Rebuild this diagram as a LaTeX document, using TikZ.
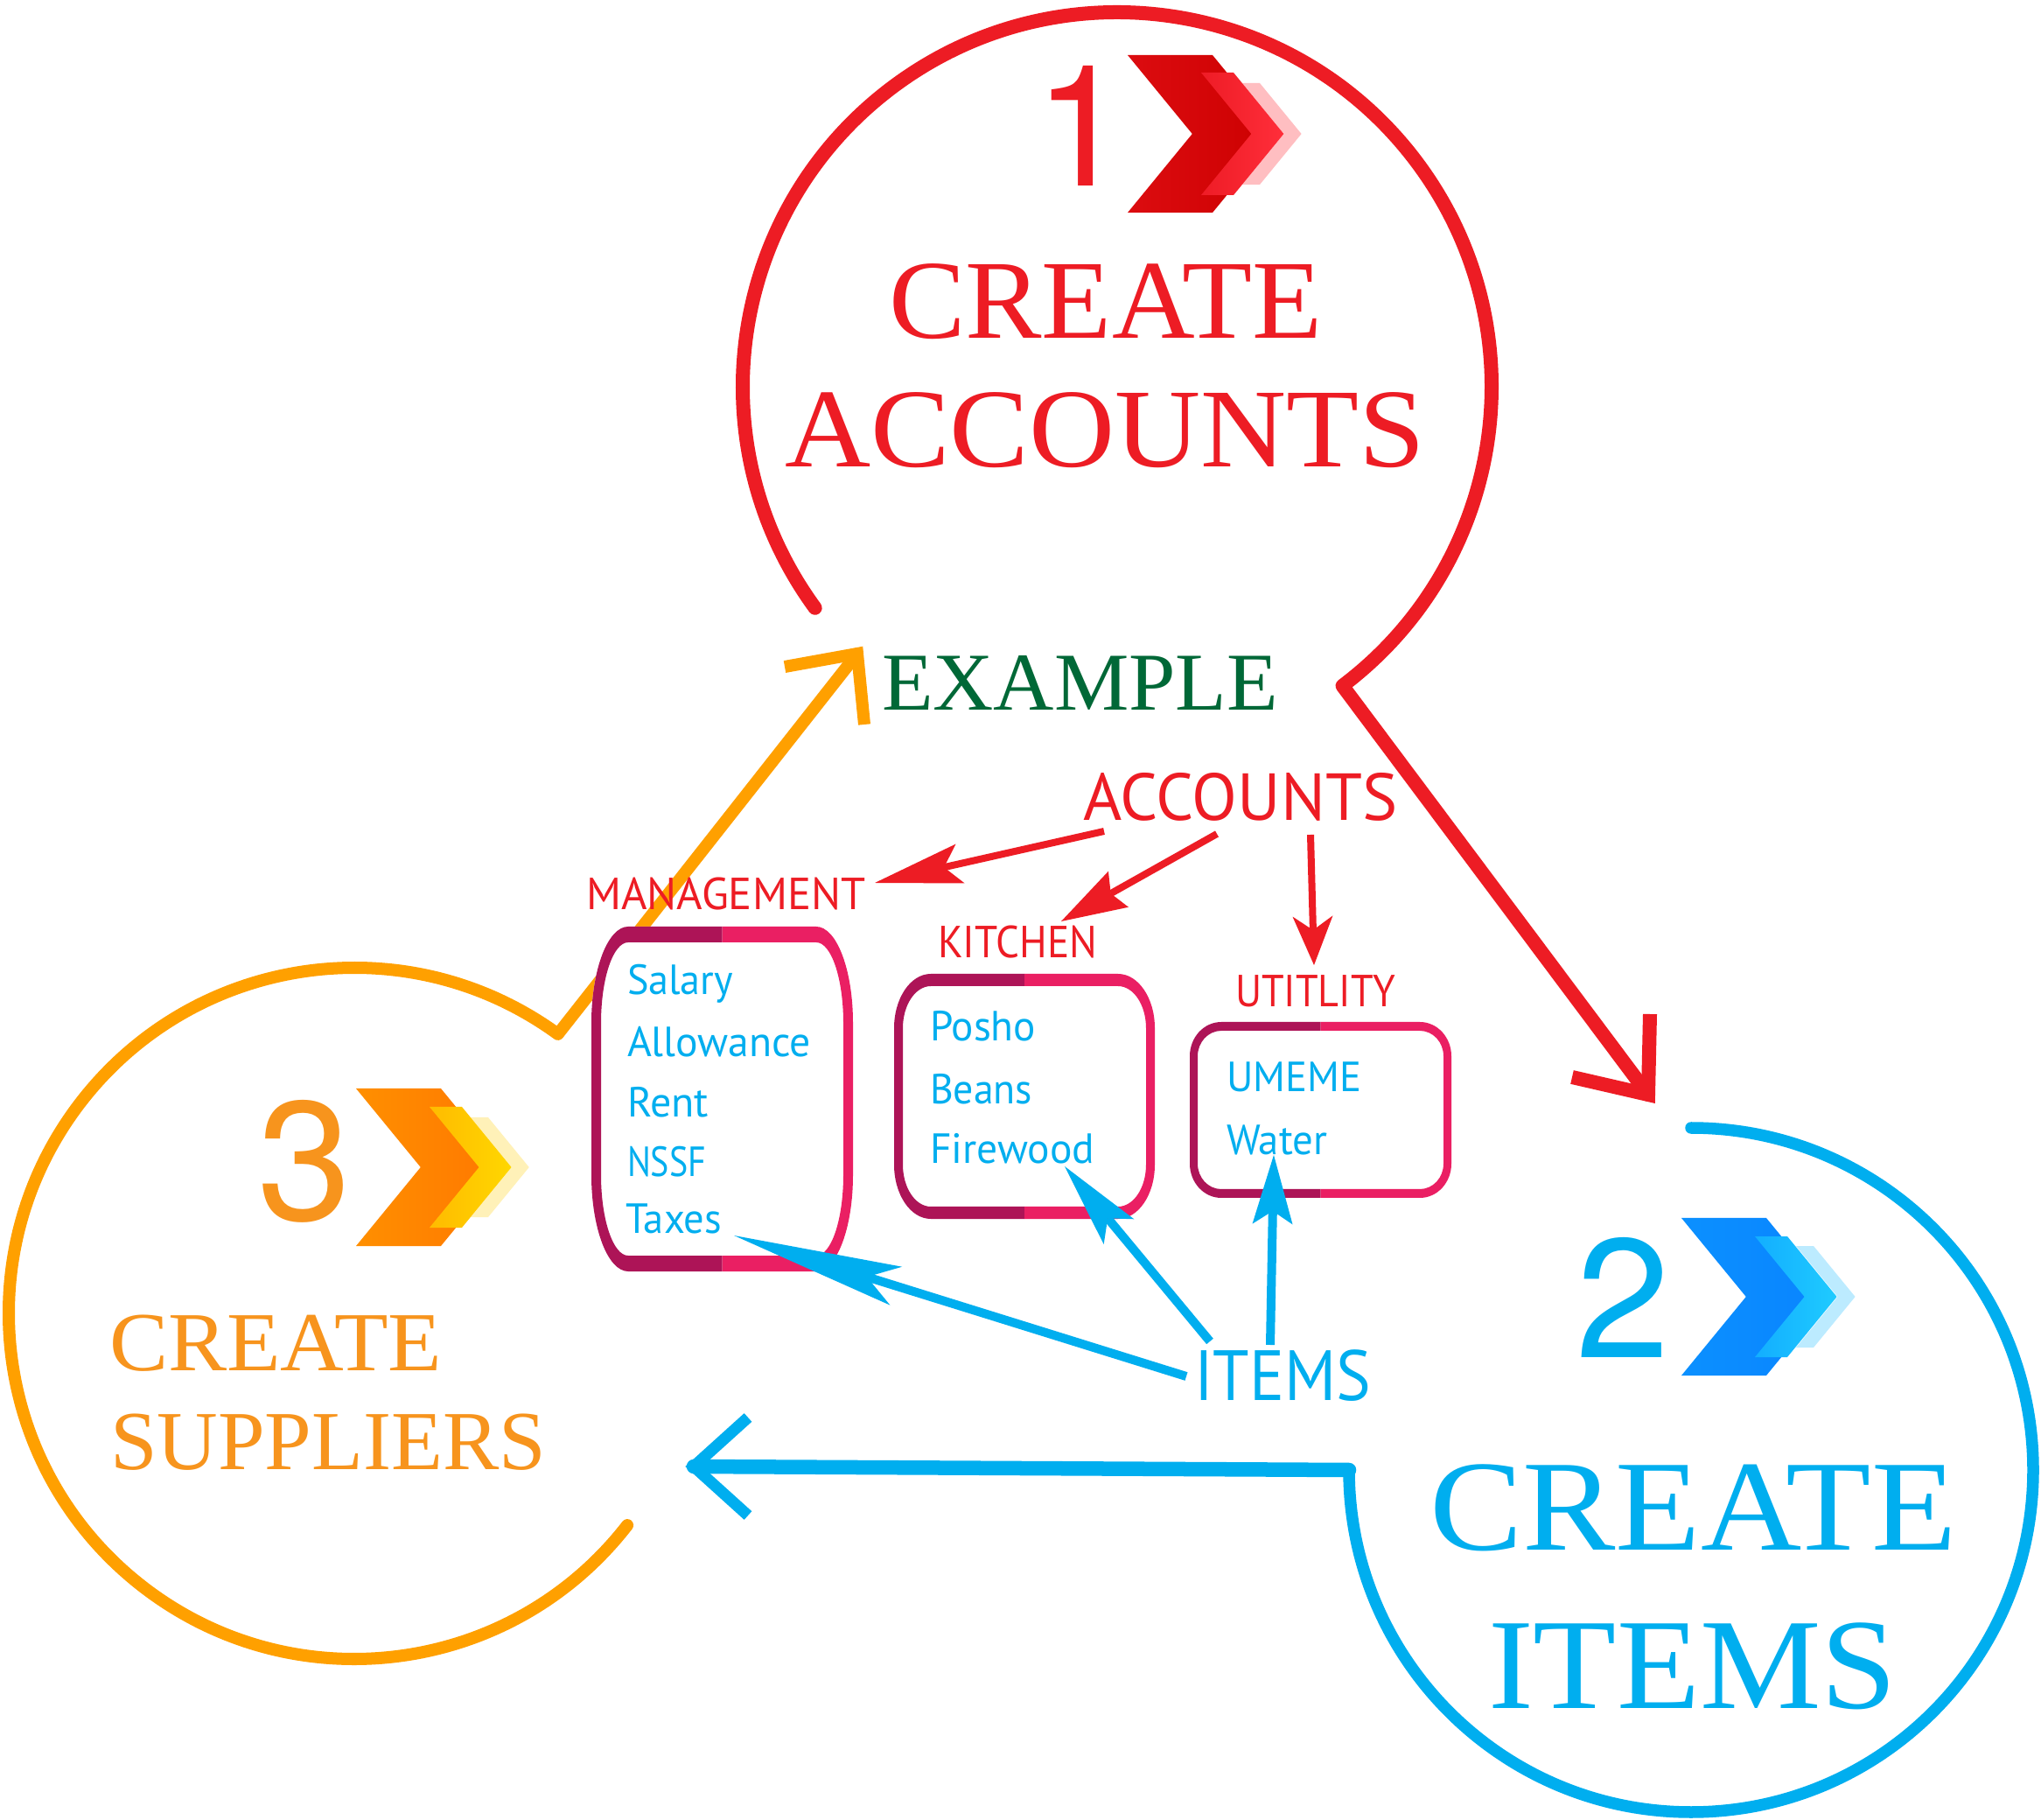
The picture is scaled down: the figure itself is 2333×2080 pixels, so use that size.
\documentclass[tikz,border=0pt]{standalone}
\usepackage{fontspec}
\usepackage{graphicx}
\usetikzlibrary{arrows.meta}
\newfontfamily\titlefont{Liberation Serif}
\newfontfamily\labelfont{PT Sans}
\newfontfamily\numfont{TeX Gyre Heros}
\newcommand{\fitw}[2]{\resizebox{#1}{\height}{#2}}
\definecolor{cred}{HTML}{ED1C24}
\definecolor{corange}{HTML}{FFA000}
\definecolor{corangeT}{HTML}{F7941D}
\definecolor{cblue}{HTML}{00AEEF}
\definecolor{cgreen}{HTML}{006837}
\definecolor{cdark}{HTML}{AD1457}
\definecolor{cpink}{HTML}{EA1F63}
\definecolor{chRa}{HTML}{DC0C10}
\definecolor{chRb}{HTML}{CC0000}
\definecolor{chRc}{HTML}{EE1C26}
\definecolor{chRd}{HTML}{FF2E3A}
\definecolor{chRe}{HTML}{FFBEC1}
\definecolor{chBa}{HTML}{0B90FF}
\definecolor{chBb}{HTML}{0A84FF}
\definecolor{chBc}{HTML}{13AEFF}
\definecolor{chBd}{HTML}{1FCBFF}
\definecolor{chBe}{HTML}{BCEBFF}
\definecolor{chOa}{HTML}{FF8F00}
\definecolor{chOb}{HTML}{FF7700}
\definecolor{chOc}{HTML}{FFBB00}
\definecolor{chOd}{HTML}{FFD700}
\definecolor{chOe}{HTML}{FFF1B8}
% rounded rectangle path with elliptic corners: x1,y1,x2,y2,rx,ry (y downwards)
\newcommand{\rrp}[6]{({(#1)+(#5)},{#2}) -- ({(#3)-(#5)},{#2}) arc[start angle=-90,end angle=0,x radius={#5},y radius={#6}] -- ({#3},{(#4)-(#6)}) arc[start angle=0,end angle=90,x radius={#5},y radius={#6}] -- ({(#1)+(#5)},{#4}) arc[start angle=90,end angle=180,x radius={#5},y radius={#6}] -- ({#1},{(#2)+(#6)}) arc[start angle=180,end angle=270,x radius={#5},y radius={#6}] -- cycle}
% two-coloured frame: x1,y1,x2,y2,rx,ry,side thickness,top thickness
\newcommand{\catbox}[8]{%
  \fill[white] \rrp{#1}{#2}{#3}{#4}{#5}{#6};
  \begin{scope}
    \clip ({(#1)-10},{(#2)-10}) rectangle ({((#1)+(#3))/2},{(#4)+10});
    \fill[cdark,even odd rule] \rrp{#1}{#2}{#3}{#4}{#5}{#6} \rrp{#1+#7}{#2+#8}{#3-#7}{#4-#8}{#5-#7}{#6-#8};
  \end{scope}
  \begin{scope}
    \clip ({((#1)+(#3))/2},{(#2)-10}) rectangle ({(#3)+10},{(#4)+10});
    \fill[cpink,even odd rule] \rrp{#1}{#2}{#3}{#4}{#5}{#6} \rrp{#1+#7}{#2+#8}{#3-#7}{#4-#8}{#5-#7}{#6-#8};
  \end{scope}}
% chevron: left x, band width, half height, centre y, left colour, right colour
\newcommand{\chev}[6]{\shade[left color=#5,right color=#6] ({#1},{(#4)-(#3)}) -- ({(#1)+(#2)},{(#4)-(#3)}) -- ({(#1)+(#2)+0.82*(#3)},{#4}) -- ({(#1)+(#2)},{(#4)+(#3)}) -- ({#1},{(#4)+(#3)}) -- ({(#1)+0.82*(#3)},{#4}) -- cycle;}
\begin{document}
\begin{tikzpicture}[x=0.01cm,y=-0.01cm,
  txt/.style={inner sep=0pt,outer sep=0pt,anchor=base west},
  digit/.style={txt,font=\numfont\fontsize{55pt}{60pt}\selectfont},
  titlered/.style={txt,text=cred,font=\titlefont\fontsize{36.5pt}{40pt}\selectfont},
  titlegreen/.style={txt,text=cgreen,font=\titlefont\fontsize{26.7pt}{30pt}\selectfont},
  titleorange/.style={txt,text=corangeT,font=\titlefont\fontsize{27.3pt}{30pt}\selectfont},
  titleblue/.style={txt,text=cblue,font=\titlefont\fontsize{42pt}{46pt}\selectfont},
  cattxt/.style={txt,text=cred,font=\labelfont\fontsize{14.6pt}{17pt}\selectfont},
  itemtxt/.style={txt,text=cblue,font=\labelfont\fontsize{13.7pt}{16pt}\selectfont},
  ringline/.style={line cap=round,line join=round},
  headarm/.style={line cap=butt,line join=miter,miter limit=20},
  catarrow/.style={cred,line width=0.08cm},
  itemarrow/.style={cblue,line width=0.1cm}]
\fill[white] (0,0) rectangle (2333,2080);
\useasboundingbox (0,0) rectangle (2333,2080);

% ---- red ring with arrow (create accounts)
\coordinate (redC) at (1277,442);
\coordinate (redTip) at (1884,1251);
\coordinate (redArmA) at (1886,1159);
\coordinate (redArmB) at (1797,1231);
\draw[cred,line width=0.16cm,ringline] (redC) ++(143.8:428) arc[start angle=143.8,end angle=413,radius=428] -- (redTip);
\draw[cred,line width=0.16cm,headarm] (redArmA) -- (redTip) -- (redArmB);

% ---- orange ring with arrow (create suppliers)
\coordinate (orC) at (405,1501);
\coordinate (orTip) at (980,747);
\coordinate (orArmA) at (897,762);
\coordinate (orArmB) at (988,828);
\draw[corange,line width=0.14cm,ringline] (orC) ++(37.8:395) arc[start angle=37.8,end angle=306.1,radius=395] -- (orTip);
\draw[corange,line width=0.14cm,headarm] (orArmA) -- (orTip) -- (orArmB);

% ---- blue ring with arrow (create items)
\coordinate (blC) at (1933,1680);
\coordinate (blCorner) at (1542,1680);
\coordinate (blTip) at (793,1676);
\coordinate (blArmA) at (855,1620);
\coordinate (blArmB) at (855,1732);
\draw[cblue,line width=0.135cm,ringline] (blC) ++(-90:391) arc[start angle=-90,end angle=180,radius=391];
\draw[cblue,line width=0.165cm,line cap=round] (blCorner) -- (blTip);
\draw[cblue,line width=0.13cm,headarm] (blArmA) -- (blTip) -- (blArmB);

% ---- chevrons
\chev{1289}{97}{90}{153}{chRa}{chRb}
\chev{1420}{20}{58}{153}{chRe}{chRe}
\chev{1373}{37}{70}{153}{chRc}{chRd}
\chev{1922}{97}{90}{1482}{chBa}{chBb}
\chev{2053}{20}{58}{1482}{chBe}{chBe}
\chev{2006}{37}{69}{1482}{chBc}{chBd}
\chev{407}{97}{90}{1334}{chOa}{chOb}
\chev{538}{20}{57}{1334}{chOe}{chOe}
\chev{491}{37}{69}{1334}{chOc}{chOd}

% ---- numbers
\node[digit,text=cred] (num1) at (1182,213) {1};
\node[digit,text=cblue] (num2) at (1801,1551) {2};
\node[digit,text=corangeT] (num3) at (294,1395) {3};

% ---- titles
\node[titlered] (accCreate) at (1016,387) {\fitw{4.95cm}{CREATE}};
\node[titlered] (accAccounts) at (897,534) {\fitw{7.32cm}{ACCOUNTS}};
\node[titlegreen] (example) at (1008,812) {\fitw{4.53cm}{EXAMPLE}};
\node[titleorange] (supCreate) at (125,1567) {\fitw{3.80cm}{CREATE}};
\node[titleorange] (supSuppliers) at (126,1679) {\fitw{4.98cm}{SUPPLIERS}};
\node[titleblue] (itmCreate) at (1634,1771) {\fitw{6.02cm}{CREATE}};
\node[titleblue] (itmItems) at (1701,1952) {\fitw{4.67cm}{ITEMS}};

% ---- category labels
\node[cattxt,font=\labelfont\fontsize{21.6pt}{24pt}\selectfont] (accLabel) at (1238,938) {\fitw{3.59cm}{ACCOUNTS}};
\node[cattxt] (mgmtLabel) at (670,1040) {\fitw{3.19cm}{MANAGEMENT}};
\node[cattxt] (kitLabel) at (1072,1095) {\fitw{1.82cm}{KITCHEN}};
\node[cattxt] (utilLabel) at (1412,1151) {\fitw{1.83cm}{UTITLITY}};
\node[itemtxt,font=\labelfont\fontsize{23.1pt}{26pt}\selectfont] (itemsLabel) at (1365,1600) {\fitw{2.02cm}{ITEMS}};

% ---- boxes
\catbox{676}{1059}{975}{1453}{42}{110}{11}{18}
\catbox{1022}{1113}{1320}{1393}{42}{62}{10}{14}
\catbox{1360}{1168}{1659}{1369}{36}{39}{9}{10}

% ---- box contents
\node[itemtxt] (salary) at (717,1137) {\fitw{1.21cm}{Salary}};
\node[itemtxt] (allowance) at (717,1208) {\fitw{2.10cm}{Allowance}};
\node[itemtxt] (rent) at (717,1277) {\fitw{0.93cm}{Rent}};
\node[itemtxt] (nssf) at (717,1344) {\fitw{0.90cm}{NSSF}};
\node[itemtxt] (taxes) at (715,1410) {\fitw{1.10cm}{Taxes}};
\node[itemtxt] (posho) at (1063,1190) {\fitw{1.21cm}{Posho}};
\node[itemtxt] (beans) at (1063,1262) {\fitw{1.17cm}{Beans}};
\node[itemtxt] (firewood) at (1063,1330) {\fitw{1.88cm}{Firewood}};
\node[itemtxt] (umeme) at (1402,1248) {\fitw{1.54cm}{UMEME}};
\node[itemtxt] (water) at (1402,1320) {\fitw{1.15cm}{Water}};

% ---- red arrows from ACCOUNTS
\coordinate (accOutA) at (1262,950);
\coordinate (mgmtIn) at (1000,1009);
\coordinate (accOutB) at (1391,953);
\coordinate (kitIn) at (1213,1053);
\coordinate (accOutC) at (1498,954);
\coordinate (utilIn) at (1502,1103);
\draw[catarrow,-{Stealth[length=1cm,width=0.46cm,inset=0.19cm,line width=0pt]}] (accOutA) -- (mgmtIn);
\draw[catarrow,-{Stealth[length=0.75cm,width=0.47cm,inset=0.1cm,line width=0pt]}] (accOutB) -- (kitIn);
\draw[catarrow,-{Stealth[length=0.56cm,width=0.46cm,inset=0.16cm,line width=0pt]}] (accOutC) -- (utilIn);

% ---- blue arrows from ITEMS
\coordinate (itOutA) at (1356,1573);
\coordinate (taxIn) at (839,1412);
\coordinate (itOutB) at (1383,1533);
\coordinate (fireIn) at (1217,1333);
\coordinate (itOutC) at (1452,1537);
\coordinate (waterIn) at (1456,1320);
\draw[itemarrow,-{Stealth[length=1.94cm,width=0.46cm,inset=0.35cm,line width=0pt]}] (itOutA) -- (taxIn);
\draw[itemarrow,-{Stealth[length=0.97cm,width=0.45cm,inset=0.2cm,line width=0pt]}] (itOutB) -- (fireIn);
\draw[itemarrow,-{Stealth[length=0.79cm,width=0.46cm,inset=0.15cm,line width=0pt]}] (itOutC) -- (waterIn);
\end{tikzpicture}
\end{document}
